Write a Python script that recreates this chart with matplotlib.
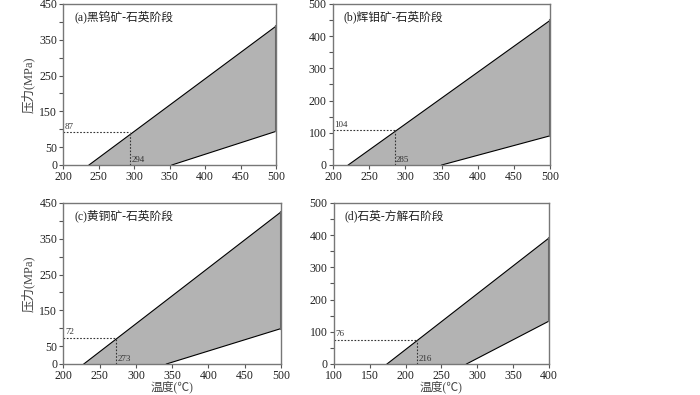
import matplotlib
matplotlib.use("Agg")
import matplotlib.pyplot as plt

plt.rcParams['font.family'] = ['Liberation Serif', 'Noto Sans CJK SC', 'DejaVu Sans']

# panel data: upper/lower boundary lines of the P-T field and the marked point
titles = ['(a)黑钨矿-石英阶段', '(b)辉钼矿-石英阶段', '(c)黄铜矿-石英阶段', '(d)石英-方解石阶段']
upper_T = [[236, 500], [221, 500], [228, 500], [174, 400]]
upper_P = [[0, 388], [0, 450], [0, 425], [0, 391]]
lower_T = [[353, 500], [350, 500], [342, 500], [285, 400]]
lower_P = [[0, 94], [0, 91], [0, 99], [0, 133]]
point_T = [294, 285, 273, 216]
point_P = [87, 104, 72, 76]
point_y = [91, 108, 73, 76]   # where the dotted line sits on the axis
xlims = [(200, 500), (200, 500), (200, 500), (100, 400)]
ylims = [(0, 450), (0, 500), (0, 450), (0, 500)]

boxes = [[0.0907, 0.5823, 0.3036, 0.4076],
         [0.4757, 0.5823, 0.3107, 0.4076],
         [0.0907, 0.0785, 0.3107, 0.4076],
         [0.4771, 0.0785, 0.3070, 0.4076]]

fig = plt.figure(figsize=(7, 3.95), dpi=100)

for i in range(4):
    ax = fig.add_axes(boxes[i])
    ut, up = upper_T[i], upper_P[i]
    lt, lp = lower_T[i], lower_P[i]
    # polygon of the shaded field
    poly_x = [ut[0], ut[1], lt[1], lt[0]]
    poly_y = [up[0], up[1], lp[1], lp[0]]
    ax.fill(poly_x, poly_y, color='#b3b3b3', lw=0)
    ax.plot(ut, up, color='black', lw=0.8)
    ax.plot(lt, lp, color='black', lw=0.8)
    ax.plot([ut[1], lt[1]], [up[1], lp[1]], color='#666666', lw=1.5)

    x0 = xlims[i][0]
    ax.plot([x0, point_T[i]], [point_y[i], point_y[i]], color='#333333', lw=0.8, ls=(0, (1.5, 1.5)))
    ax.plot([point_T[i], point_T[i]], [0, point_y[i]], color='#333333', lw=0.8, ls=(0, (1.5, 1.5)))
    ax.text(x0 + 2, point_y[i] + 5, str(point_P[i]), fontsize=6.5, color='#333333', va='bottom', ha='left')
    ax.text(point_T[i] + 2, 3, str(point_T[i]), fontsize=6.5, color='#333333', va='bottom', ha='left')

    ax.set_xlim(*xlims[i])
    ax.set_ylim(*ylims[i])
    ax.set_xticks(range(xlims[i][0], xlims[i][1] + 1, 50))
    yt = list(range(0, ylims[i][1] + 1, 50))
    ax.set_yticks(yt)
    if ylims[i][1] == 450:
        ax.set_yticklabels([str(v) if v in (0, 50, 150, 250, 350, 450) else '' for v in yt])
    else:
        ax.set_yticklabels([str(v) if v % 100 == 0 else '' for v in yt])
    ax.tick_params(direction='out', length=3, width=0.8, color='#555555',
                   labelsize=8.5, labelcolor='#222222', pad=1.5,
                   top=False, right=False)
    for s in ax.spines.values():
        s.set_color('#777777')
        s.set_linewidth(1.0)

    ax.text(0.05, 0.92, titles[i], transform=ax.transAxes, fontsize=8.5,
            color='#222222', va='center', ha='left')
    if i in (0, 2):
        ax.set_ylabel('压力(MPa)', fontsize=9, color='#444444', labelpad=3)
    if i in (2, 3):
        ax.set_xlabel('温度(℃)', fontsize=8.5, color='#444444', labelpad=-1)

fig.savefig('out.png', dpi=100)
